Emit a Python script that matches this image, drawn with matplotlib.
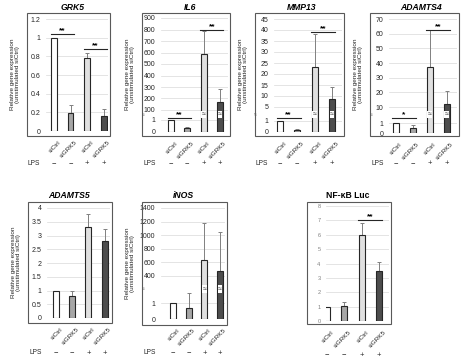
import matplotlib.pyplot as plt
import numpy as np
from matplotlib.patches import Rectangle
from matplotlib.transforms import blended_transform_factory

plt.rcParams['font.family'] = ['Liberation Sans', 'DejaVu Sans']

# data
groups = ['siCtrl', 'siGRK5', 'siCtrl', 'siGRK5']
lps_signs = ['\u2212', '\u2212', '+', '+']

grk5_mean = [1.0, 0.19, 0.78, 0.16]
grk5_err = [0, 0.09, 0.06, 0.08]
il6_mean = [1.0, 0.3, 585, 168]
il6_err = [0, 0.12, 205, 115]
mmp13_mean = [1.0, 0.15, 23.2, 8.6]
mmp13_err = [0, 0.08, 15, 5.5]
adamts4_mean = [1.0, 0.5, 37.5, 12]
adamts4_err = [0, 0.3, 25, 9]
adamts5_mean = [1.0, 0.8, 3.3, 2.8]
adamts5_err = [0, 0.2, 0.5, 0.45]
inos_mean = [1.0, 0.69, 635, 470]
inos_err = [0, 0.95, 545, 570]
nfkb_mean = [1.0, 1.05, 6.0, 3.5]
nfkb_err = [0, 0.25, 0.85, 0.6]

grk5_ticks = [0, 0.2, 0.4, 0.6, 0.8, 1, 1.2]
il6_ticks = [0, 1, 100, 200, 300, 400, 500, 600, 700, 800, 900]
mmp13_ticks = [0, 1, 5, 10, 15, 20, 25, 30, 35, 40, 45]
adamts4_ticks = [0, 1, 10, 20, 30, 40, 50, 60, 70]
adamts5_ticks = [0, 0.5, 1, 1.5, 2, 2.5, 3, 3.5, 4]
inos_ticks = [0, 1, 400, 600, 800, 1000, 1200, 1400]
nfkb_ticks = [0, 1, 2, 3, 4, 5, 6, 7, 8]

# (bar a, bar b, stars, height)
grk5_sig = [(0, 1, '**', 1.04), (2, 3, '**', 0.88)]
il6_sig = [(0, 1, '**', 1.17), (2, 3, '**', 796)]
mmp13_sig = [(0, 1, '**', 1.27), (2, 3, '**', 39)]
adamts4_sig = [(0, 1, '*', 1.5), (2, 3, '**', 62.5)]
nfkb_sig = [(2, 3, '**', 7.0)]

W, H = 470, 362
bar_colors = ['white', '#a6a6a6', '#e0e0e0', '#4d4d4d']
ylab = 'Relative gene expression\n(unstimulated siCtrl)'


def break_funcs(a, lo, hi, v1, s1, k):
    # piecewise linear: lower part, squeezed gap, upper part (s in pixels)
    s_lo = a * lo
    s_hi = s1 - (v1 - hi) * k

    def fwd(v):
        v = np.asarray(v, dtype=float)
        mid = s_lo + (v - lo) * (s_hi - s_lo) / (hi - lo)
        return np.where(v <= lo, a * v, np.where(v >= hi, s_hi + (v - hi) * k, mid))

    def inv(s):
        s = np.asarray(s, dtype=float)
        mid = lo + (s - s_lo) * (hi - lo) / (s_hi - s_lo)
        return np.where(s <= s_lo, s / a, np.where(s >= s_hi, hi + (s - s_hi) / k, mid))

    return fwd, inv, (s_lo + s_hi) / 2


panels = [
    dict(title='GRK5', italic=True, mean=grk5_mean, err=grk5_err, ticks=grk5_ticks, sig=grk5_sig,
         border=(27, 13, 110, 136), zero=131, top_px=19, centers=(54, 105), title_xy=(73, 8), lps_y=164),
    dict(title='IL6', italic=True, mean=il6_mean, err=il6_err, ticks=il6_ticks, sig=il6_sig,
         border=(142, 13, 230, 136), zero=132, brk=(12, 1.35, 70, 100, 22, 0.115), centers=(171, 220),
         title_xy=(190, 8), lps_y=164),
    dict(title='MMP13', italic=True, mean=mmp13_mean, err=mmp13_err, ticks=mmp13_ticks, sig=mmp13_sig,
         border=(255, 13, 344, 136), zero=132, brk=(11, 1.5, 2.0, 5, 25, 2.2), centers=(280, 332),
         title_xy=(302, 8), lps_y=164),
    dict(title='ADAMTS4', italic=True, mean=adamts4_mean, err=adamts4_err, ticks=adamts4_ticks, sig=adamts4_sig,
         border=(370, 13, 459, 136), zero=133, brk=(10, 1.6, 6.5, 10, 26, 88 / 60), centers=(395.5, 446.5),
         title_xy=(421, 8), lps_y=164),
    dict(title='ADAMTS5', italic=True, mean=adamts5_mean, err=adamts5_err, ticks=adamts5_ticks, sig=[],
         border=(28, 202, 112, 323), zero=318, top_px=208, centers=(56, 104.5), title_xy=(69, 195), lps_y=353),
    dict(title='iNOS', italic=True, mean=inos_mean, err=inos_err, ticks=inos_ticks, sig=[],
         border=(142, 202, 227, 325), zero=319, brk=(16, 1.8, 220, 400, 43, 0.068), centers=(173, 220),
         title_xy=(183, 195), lps_y=353),
    dict(title='NF-\u03baB Luc', italic=False, mean=nfkb_mean, err=nfkb_err, ticks=nfkb_ticks, sig=nfkb_sig,
         border=(307, 202, 391, 324), zero=321, top_px=206, centers=(327, 379), title_xy=(348, 195),
         lps_y=355, no_ylabel=True, light=True),
]

fig = plt.figure(figsize=(W / 100, H / 100), dpi=100)

for p in panels:
    bx0, by0, bx1, by1 = p['border']
    fig.add_artist(Rectangle((bx0 / W, 1 - by1 / H), (bx1 - bx0) / W, (by1 - by0) / H,
                             transform=fig.transFigure, fill=False, edgecolor='#595959', lw=0.8))

    ytop = p['ticks'][-1]
    if 'brk' in p:
        fwd, inv, s_mid = break_funcs(*p['brk'])
        top_px = p['zero'] - float(fwd(ytop))
    else:
        top_px = p['top_px']

    axL, axR = bx0 + 19, bx1 - 2
    ax = fig.add_axes([axL / W, 1 - p['zero'] / H, (axR - axL) / W, (p['zero'] - top_px) / H])
    if 'brk' in p:
        ax.set_yscale('function', functions=(fwd, inv))
    ax.set_ylim(0, ytop)

    c0, c3 = p['centers']
    d = (c3 - c0) / 3
    ax.set_xlim(-(c0 - axL) / d, 3 + (axR - c3) / d)

    x = np.arange(4)
    mean = np.array(p['mean'])
    err = np.array(p['err'])
    ax.bar(x, mean, width=6 / d, color=bar_colors, edgecolor='#262626', linewidth=0.8, zorder=2)
    has = err > 0
    ax.errorbar(x[has], mean[has], yerr=[np.zeros(has.sum()), err[has]], fmt='none',
                ecolor='#808080', elinewidth=0.7, capsize=1.5, capthick=0.7, zorder=1)

    # axis break marks
    if 'brk' in p:
        vb = float(inv(s_mid))
        for i in x[mean > p['brk'][2]]:
            ax.text(i, vb, '\u2248', ha='center', va='center', fontsize=5, color='#404040', zorder=3,
                    bbox=dict(boxstyle='square,pad=0.05', fc='white', ec='none'))
        ax.text(-17 / (axR - axL), vb, '\u2248', transform=blended_transform_factory(ax.transAxes, ax.transData),
                ha='right', va='center', fontsize=3.5, color='#595959')

    for a, b, stars, h in p['sig']:
        ax.plot([a - 0.2, b + 0.2], [h, h], color='#262626', lw=0.8, zorder=3, clip_on=False)
        ax.text((a + b) / 2, h, stars, ha='center', va='bottom', fontsize=6, fontweight='bold', zorder=3)

    ax.set_yticks(p['ticks'])
    ax.set_yticklabels([f'{t:g}' for t in p['ticks']])
    ax.set_xticks(x + 0.25)
    ax.set_xticklabels(groups, rotation=45, ha='right', rotation_mode='anchor')
    ax.tick_params(axis='y', length=0, pad=4, labelsize=4 if p.get('light') else 5,
                   labelcolor='#7f7f7f' if p.get('light') else '#262626')
    ax.tick_params(axis='x', length=0, pad=6, labelsize=4.6, labelcolor='#262626')
    ax.grid(axis='y', color='#d9d9d9', lw=0.5)
    ax.set_axisbelow(True)
    ax.set_facecolor('none')
    for spine in ax.spines.values():
        spine.set_visible(False)

    fig.text(p['title_xy'][0] / W, 1 - p['title_xy'][1] / H, p['title'], ha='center', va='center',
             fontsize=6.2, fontweight='bold', fontstyle='italic' if p['italic'] else 'normal')
    if not p.get('no_ylabel'):
        fig.text((bx0 - 12) / W, 1 - (by0 + by1) / 2 / H, ylab, rotation=90, ha='center', va='center',
                 fontsize=4.6, color='#262626', linespacing=1.2)

    # LPS row
    trans = blended_transform_factory(ax.transData, fig.transFigure)
    if not p.get('no_ylabel'):
        fig.text((bx0 + 1) / W, 1 - p['lps_y'] / H, 'LPS', ha='left', va='center', fontsize=4.8, color='#262626')
    for i, s in enumerate(lps_signs):
        ax.text(i, 1 - p['lps_y'] / H, s, transform=trans, ha='center', va='center', fontsize=5.5,
                color='#262626')

fig.savefig('out.png', dpi=100)
